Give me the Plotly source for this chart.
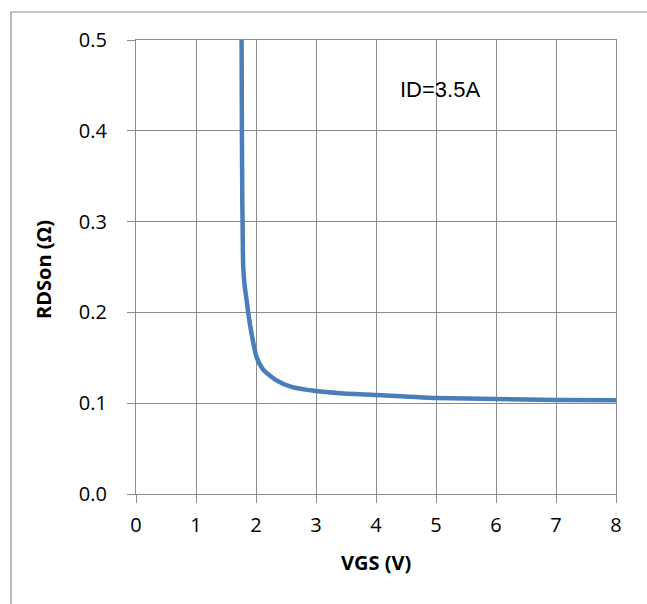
import plotly.graph_objects as go

# Data
vgs = [1.760, 1.765, 1.772, 1.776, 1.787, 1.810, 1.843, 1.870, 1.925, 2.008,
       2.120, 2.320, 2.590, 3.000, 3.400, 4.000, 4.500, 5.000, 6.000, 7.000, 8.000]
rdson = [0.500, 0.400, 0.320, 0.300, 0.250, 0.230, 0.214, 0.200, 0.177, 0.151,
         0.137, 0.126, 0.118, 0.1134, 0.111, 0.109, 0.1075, 0.1057, 0.1046, 0.1035, 0.1032]

x_ticks = [0, 1, 2, 3, 4, 5, 6, 7, 8]
y_ticks = [0.0, 0.1, 0.2, 0.3, 0.4, 0.5]
y_tick_labels = ["0.0", "0.1", "0.2", "0.3", "0.4", "0.5"]

W, H = 647, 604
ML, MR, MT, MB = 136, 31, 40, 110
PW, PH = W - ML - MR, H - MT - MB

def px_to_paper_x(px):
    return (px - ML) / PW

def py_to_paper_y(py):
    return (H - MB - py) / PH

GRID = "#8c8c8c"
TICKFONT = dict(family="Open Sans", size=20, color="#000000")

fig = go.Figure()
fig.add_trace(go.Scatter(
    x=vgs, y=rdson, mode="lines",
    line=dict(color="#4A7EBB", width=4.5, shape="spline", smoothing=0.6),
    hoverinfo="skip", showlegend=False, cliponaxis=True,
))

fig.update_layout(
    width=W, height=H,
    margin=dict(l=ML, r=MR, t=MT, b=MB, autoexpand=False),
    paper_bgcolor="white", plot_bgcolor="white",
    showlegend=False,
    xaxis=dict(
        range=[0, 8], tickmode="array", tickvals=x_ticks,
        showgrid=True, gridcolor=GRID, gridwidth=1.2,
        showline=True, linecolor=GRID, linewidth=1.2, mirror=True,
        ticks="outside", ticklen=8, tickcolor=GRID, tickwidth=1.2,
        tickfont=TICKFONT, zeroline=False, ticklabelstandoff=5,
    ),
    yaxis=dict(
        range=[0, 0.5], tickmode="array", tickvals=y_ticks, ticktext=y_tick_labels,
        showgrid=True, gridcolor=GRID, gridwidth=1.2,
        showline=True, linecolor=GRID, linewidth=1.2, mirror=True,
        ticks="outside", ticklen=8, tickcolor=GRID, tickwidth=1.2,
        tickfont=TICKFONT, zeroline=False, ticklabelstandoff=16,
    ),
    shapes=[dict(
        type="rect", xref="paper", yref="paper",
        x0=px_to_paper_x(11), x1=1.2, y0=-0.4, y1=py_to_paper_y(12),
        line=dict(color="#8c8c8c", width=1.2), fillcolor="rgba(0,0,0,0)", layer="below",
    )],
    annotations=[
        dict(text="<b>VGS (V)</b>", xref="paper", yref="paper",
             x=px_to_paper_x(376), y=py_to_paper_y(562), xanchor="center", yanchor="middle",
             showarrow=False, font=dict(family="Open Sans", size=20, color="#000000")),
        dict(text="<b>RDSon (Ω)</b>", xref="paper", yref="paper",
             x=px_to_paper_x(43), y=py_to_paper_y(270), xanchor="center", yanchor="middle",
             textangle=-90, showarrow=False,
             font=dict(family="Open Sans", size=20, color="#000000")),
        dict(text="ID=3.5A", xref="x", yref="y", x=5.07, y=0.446,
             xanchor="center", yanchor="middle", showarrow=False,
             font=dict(family="Liberation Sans", size=22, color="#000000")),
    ],
)

fig.write_html(
    "out.html",
    config={"displayModeBar": False},
    post_script="document.body.style.margin='0';document.body.style.padding='0';",
)
